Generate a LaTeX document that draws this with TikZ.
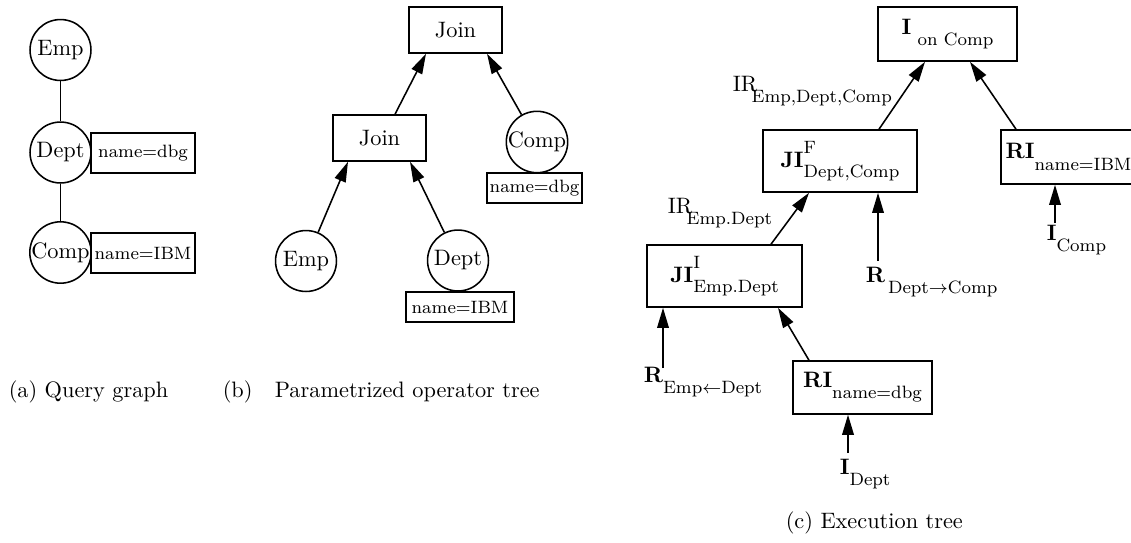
\documentclass[tikz,border=0pt]{standalone}
\usetikzlibrary{arrows.meta,calc}

\newcommand{\lsub}[2]{#1\raisebox{-5pt}{\footnotesize #2}}
\newcommand{\lsupsub}[3]{#1\rlap{\raisebox{6.2pt}{\footnotesize #2}}\raisebox{-4.5pt}{\footnotesize #3}}

\begin{document}
\begin{tikzpicture}[x=0.448pt,y=-0.448pt,line width=0.7pt,
  relnode/.style={draw,circle,inner sep=0pt,minimum size=27.3pt},
  opbox/.style={draw,rectangle,inner sep=1pt},
  predbox/.style={draw,rectangle,inner sep=1pt,font=\footnotesize},
  flow/.style={-{Triangle[length=9pt,width=5.2pt]}},
  txt/.style={anchor=base west,inner sep=0pt}]
  \useasboundingbox (0,0) rectangle (1131,542);

  % (a) query graph
  \node[relnode] (emp1) at (60.5,50) {Emp};
  \node[relnode] (dept1) at (60.5,152.5) {Dept};
  \node[relnode] (comp1) at (60.5,252.5) {Comp};
  \node[predbox,minimum width=46.6pt,minimum height=17.9pt] (dbg1) at (143,153) {name=dbg};
  \node[predbox,minimum width=46.6pt,minimum height=17.9pt] (ibm1) at (143,253) {name=IBM};

  \path (emp1) edge (dept1);
  \path (dept1) edge (comp1);

  % (b) parametrized operator tree
  \node[opbox,minimum width=41.7pt,minimum height=20.6pt] (join1) at (455.5,30) {Join};
  \node[opbox,minimum width=41.7pt,minimum height=20.6pt] (join2) at (379.5,138) {Join};
  \node[relnode] (emp2) at (306,261) {Emp};
  \node[relnode] (dept2) at (458,260.5) {Dept};
  \node[relnode] (comp2) at (537,142) {Comp};
  \node[predbox,minimum width=48.4pt,minimum height=13.4pt] (ibm2) at (460,307) {name=IBM};
  \node[predbox,minimum width=42.6pt,minimum height=13.4pt] (dbg2) at (534.5,188) {name=dbg};

  \path[flow] (emp2) edge ($(join2.south)+(-31.5,0)$);
  \path[flow] (dept2) edge ($(join2.south)+(30.5,0)$);
  \path[flow] ($(join2.north)+(15.5,0)$) edge ($(join1.south)+(-29.5,0)$);
  \path[flow] (comp2) edge ($(join1.south)+(31.5,0)$);

  % (c) execution tree
  \node[opbox,minimum width=62.3pt,minimum height=24.2pt] (ijoin) at (947.5,34) {\lsub{\textbf{I}}{~on Comp}};
  \node[opbox,minimum width=69pt,minimum height=27.8pt] (jif) at (840,161) {\lsupsub{\textbf{JI}}{F}{Dept,Comp}};
  \node[opbox,minimum width=60.5pt,minimum height=24.2pt] (riibm) at (1068.5,157) {\lsub{\textbf{RI}}{name=IBM}};
  \node[opbox,minimum width=69.4pt,minimum height=27.8pt] (jii) at (724.5,276) {\lsupsub{\textbf{JI}}{I}{Emp.Dept}};
  \node[opbox,minimum width=62.3pt,minimum height=23.7pt] (ridbg) at (862.5,387.5) {\lsub{\textbf{RI}}{name=dbg}};

  \node[txt] (irtop) at (732,91) {\lsub{IR\kern-2.5pt}{Emp,Dept,Comp}};
  \node[txt] (iremp) at (667,213) {\lsub{IR\kern-2.5pt}{Emp.Dept}};
  \node[txt] (rdc) at (865,282) {\lsub{\textbf{R}}{\,Dept$\rightarrow$Comp}};
  \node[txt] (icomp) at (1046,240) {\lsub{\textbf{I}}{Comp}};
  \node[txt] (red) at (643,382) {\lsub{\textbf{R}}{Emp$\leftarrow$Dept}};
  \node[txt] (idept) at (839,474) {\lsub{\textbf{I}}{Dept}};

  \coordinate (rdc-t) at (878,261);
  \coordinate (icomp-t) at (1055,223);
  \coordinate (red-t) at (663,368);
  \coordinate (idept-t) at (848,453);

  \path[flow] ($(jif.north)+(39,0)$) edge ($(ijoin.south)+(-22.5,0)$);
  \path[flow] ($(riibm.north)+(-52.5,0)$) edge ($(ijoin.south)+(22.5,0)$);
  \path[flow] ($(jii.north)+(46.5,0)$) edge ($(jif.south)+(-31,0)$);
  \path[flow] ($(ridbg.north)+(-53.5,0)$) edge ($(jii.south)+(53.5,0)$);
  \path[flow] (rdc-t) edge (rdc-t |- jif.south);
  \path[flow] (icomp-t) edge (icomp-t |- riibm.south);
  \path[flow] (red-t) edge (red-t |- jii.south);
  \path[flow] (idept-t) edge (idept-t |- ridbg.south);

  % captions
  \node[txt] (capa) at (8,397.5) {(a) Query graph};
  \node[txt] (capb) at (222,397.5) {(b)\quad Parametrized operator tree};
  \node[txt] (capc) at (785,528) {(c) Execution tree};
\end{tikzpicture}
\end{document}
